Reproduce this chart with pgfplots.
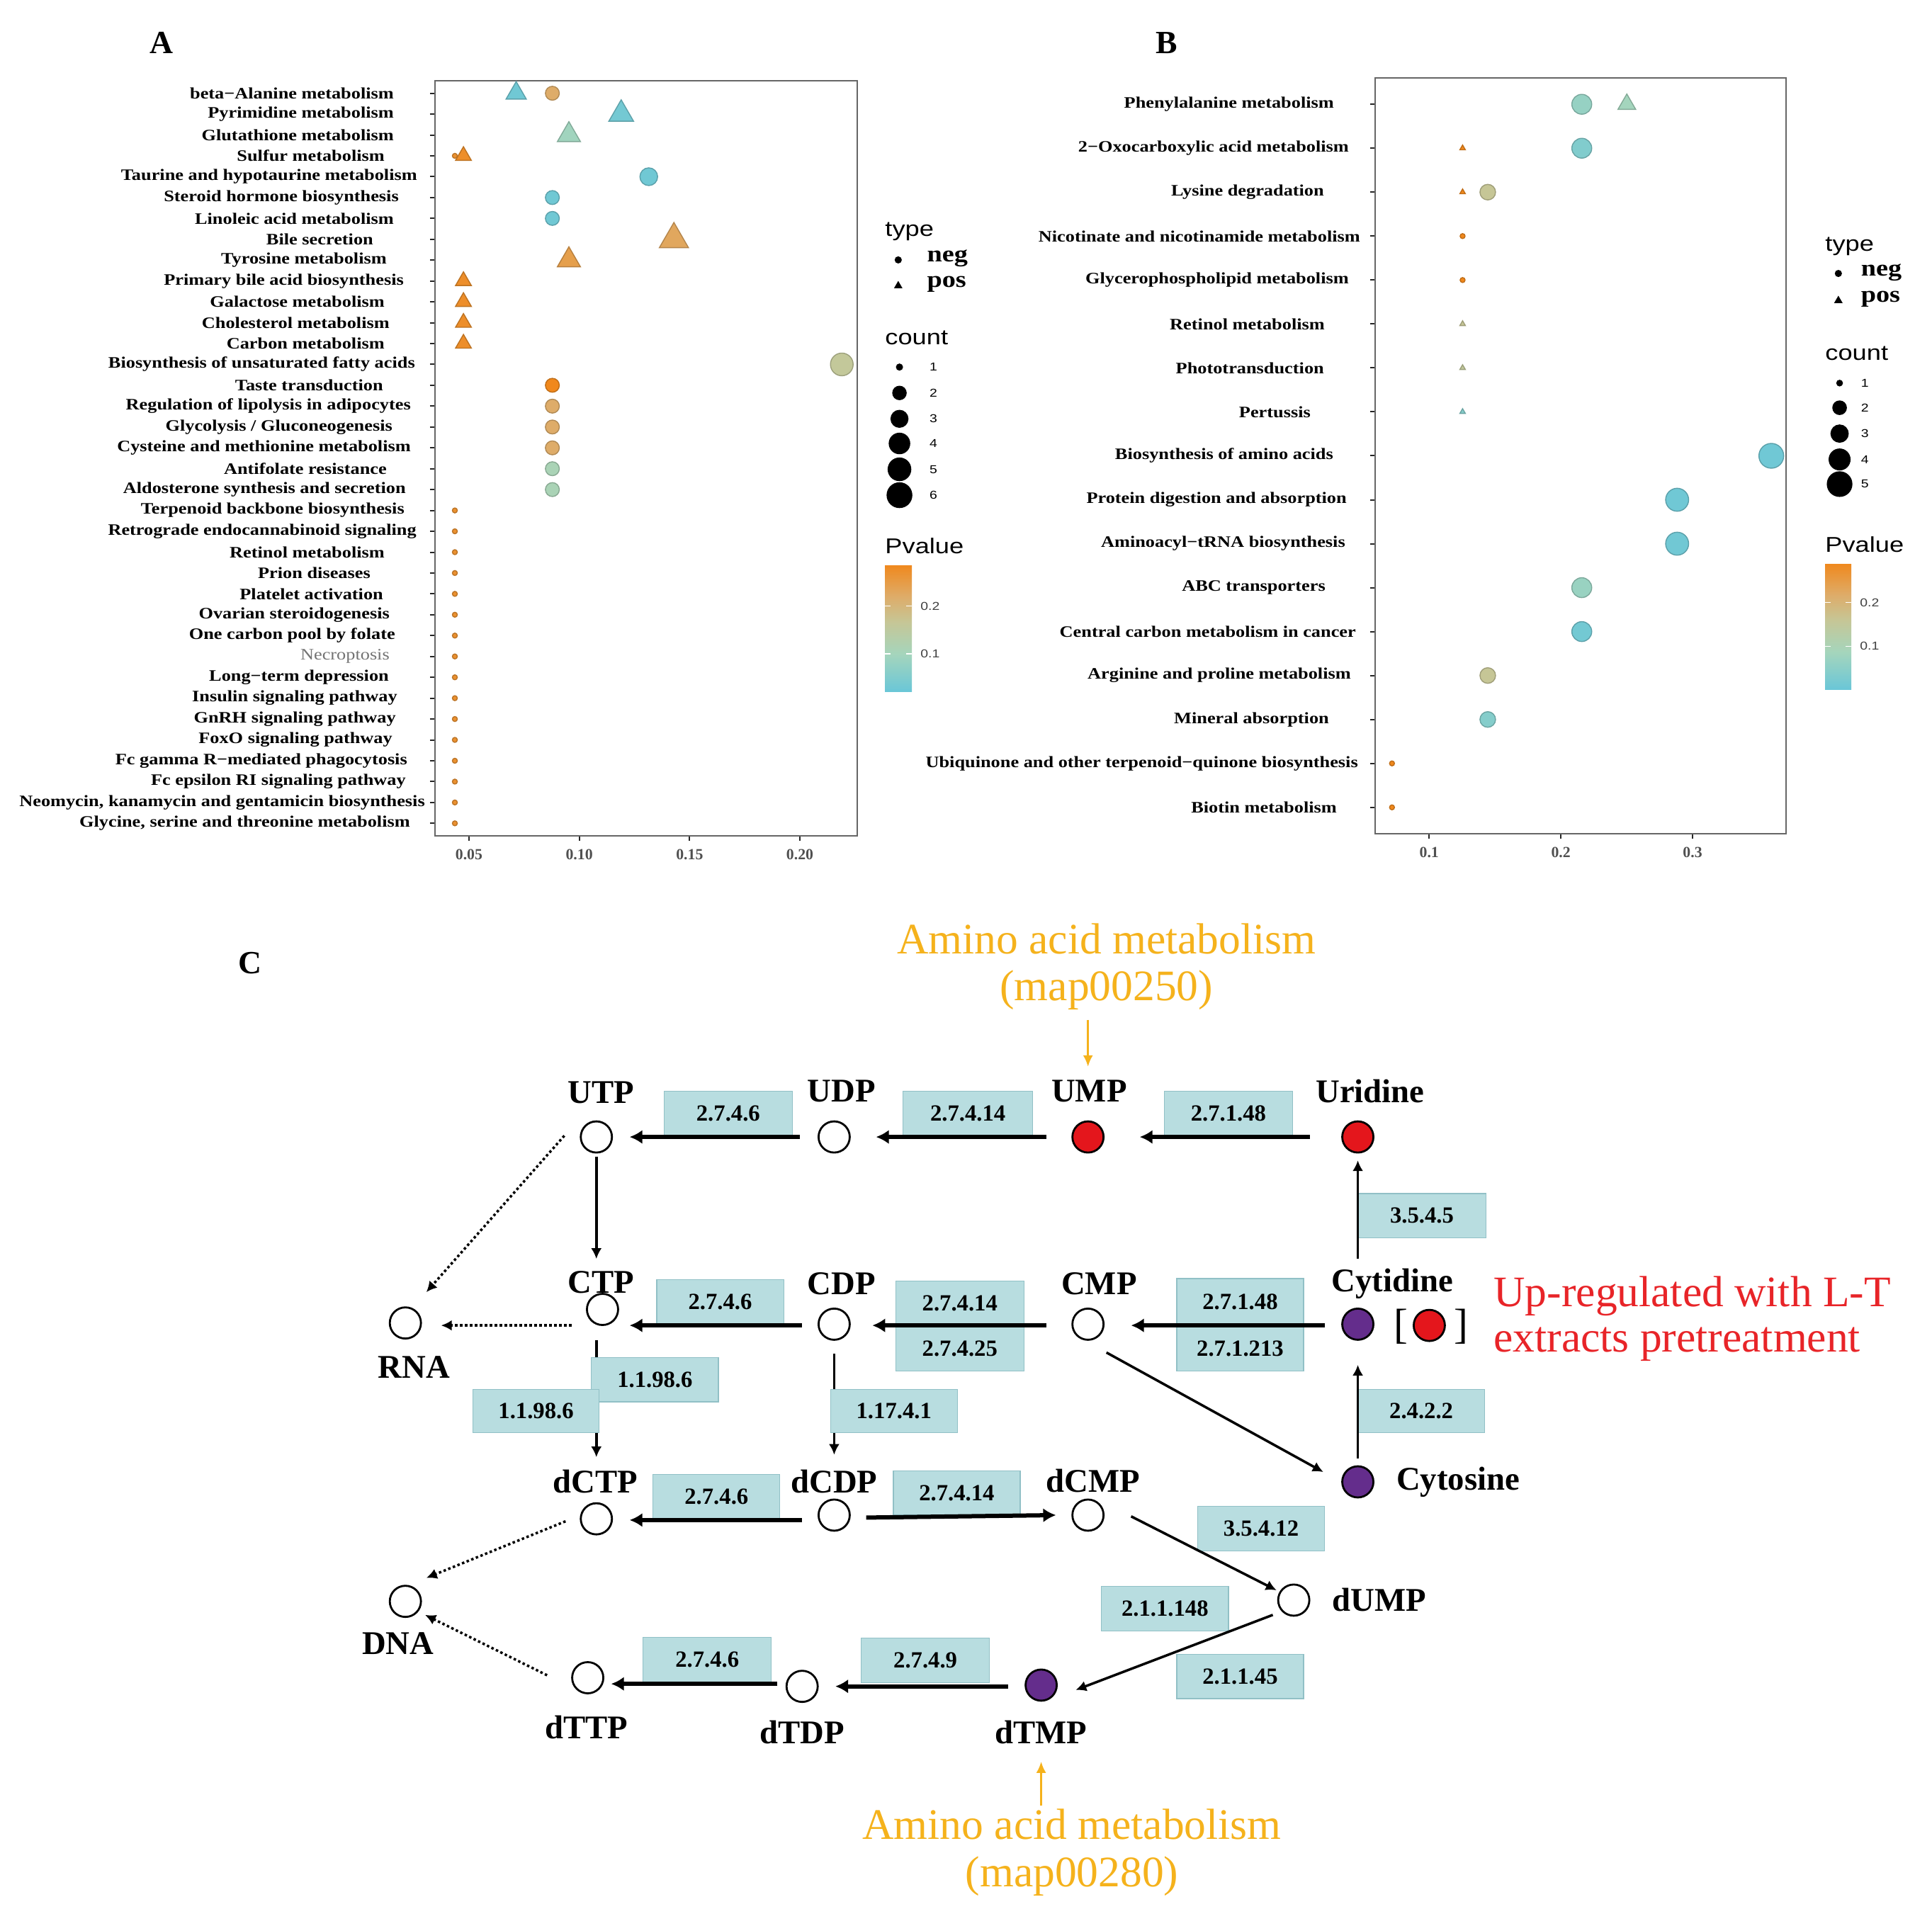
\documentclass[border=0pt]{standalone}
\usepackage{fontspec}
\setmainfont{Liberation Serif}
\newfontfamily\labfont[FakeStretch=1.17]{Liberation Serif}
\newfontfamily\legfont[FakeStretch=1.2]{Liberation Sans}
\usepackage{pgfplots}
\pgfplotsset{compat=1.18}
\usetikzlibrary{arrows.meta,calc}

\definecolor{boxfill}{RGB}{184,221,224}
\definecolor{boxdraw}{RGB}{145,192,198}
\definecolor{nodered}{RGB}{228,22,28}
\definecolor{nodepurple}{RGB}{100,45,140}
\definecolor{amino}{RGB}{245,178,28}
\definecolor{upred}{RGB}{232,36,40}
\definecolor{ticklab}{RGB}{80,80,80}

\newcommand{\gap}[1]{\rule{#1}{0pt}}

\pgfplotsset{
  colormap={pv}{rgb255(0pt)=(105,198,216) rgb255(30pt)=(165,213,188) rgb255(55pt)=(198,198,150) rgb255(75pt)=(222,172,105) rgb255(100pt)=(240,136,28)},
  bubble/.style={scatter, only marks, mark=#1, point meta=explicit,
    visualization depends on={\thisrow{r}\as\rad},
    scatter/@pre marker code/.append style={/tikz/mark size=\rad mm}},
  panel/.style={scale only axis, anchor=south west, clip=false,
    axis line style={draw=black!60, line width=0.15mm},
    tick align=outside, major tick length=0.7mm,
    tick style={draw=black!85, line width=0.2mm},
    xtick pos=left, ytick pos=left,
    xticklabel style={font=\rmfamily\bfseries\fontsize{6.2}{7}\selectfont, text=ticklab},
    yticklabel style={font=\labfont\bfseries\fontsize{6.4}{7}\selectfont, anchor=east, inner sep=0pt},
    colormap name=pv, colorbar},
  cbar/.style={anchor=south west, scale only axis,
    ytick={0.1,0.2}, yticklabels={0.1,0.2},
    yticklabel style={font=\legfont\fontsize{4.6}{5}\selectfont, text=black!75},
    axis line style={draw=none}, tick align=inside, major tick length=0.8mm,
    tick style={draw=white, line width=0.15mm}}
}

\newcommand{\ebox}[5]{%
  \draw[fill=boxfill, draw=boxdraw, line width=0.12mm] (axis cs:#1,#2) rectangle (axis cs:#3,#4);
  \path (axis cs:#1,#2) -- node[midway, font=\bfseries\fontsize{9.3}{10}\selectfont] {#5} (axis cs:#3,#4);}
\newcommand{\met}[3]{\node[font=\bfseries\fontsize{13.3}{14}\selectfont] at (axis cs:#2,#3) {#1};}
\newcommand{\cnt}[3]{\node[anchor=west, inner sep=0pt, font=\legfont\fontsize{4.6}{5}\selectfont] at (axis cs:#2,#3) {#1};}
\newcommand{\legtitle}[3]{\node[anchor=west, inner sep=0pt, font=\legfont\fontsize{8.6}{9}\selectfont] at (axis cs:#2,#3) {#1};}
\newcommand{\legtype}[3]{\node[anchor=west, inner sep=0pt, font=\labfont\bfseries\fontsize{9.3}{10}\selectfont] at (axis cs:#2,#3) {#1};}

\begin{document}
\begin{tikzpicture}
\path[use as bounding box, fill=white] (0,0) rectangle (272.7mm,271.8mm);

% ---------------- canvas: panel C, legends, panel letters ----------------
\begin{axis}[at={(0,0)}, anchor=south west, scale only axis,
  width=272.7mm, height=271.8mm, xmin=0, xmax=1568, ymin=0, ymax=1563,
  y dir=reverse, hide axis, clip=false]

% panel letters
\node[font=\bfseries\fontsize{13}{14}\selectfont] at (axis cs:131,35) {A};
\node[font=\bfseries\fontsize{13}{14}\selectfont] at (axis cs:947,35) {B};
\node[font=\bfseries\fontsize{13}{14}\selectfont] at (axis cs:203,782) {C};

% legend A
\legtitle{type}{718}{188}
\addplot[only marks, mark=*, mark size=0.43mm, black] coordinates {(729,211)};
\addplot[only marks, mark=triangle*, mark size=0.55mm, black] coordinates {(729,232)};
\legtype{neg}{752}{210}
\legtype{pos}{752}{231}
\legtitle{count}{718}{274}
\addplot[only marks, mark=*, mark size=0.43mm, black] coordinates {(730,298)};
\addplot[only marks, mark=*, mark size=0.95mm, black] coordinates {(730,319)};
\addplot[only marks, mark=*, mark size=1.2mm, black] coordinates {(730,340)};
\addplot[only marks, mark=*, mark size=1.45mm, black] coordinates {(730,360)};
\addplot[only marks, mark=*, mark size=1.6mm, black] coordinates {(730,381)};
\addplot[only marks, mark=*, mark size=1.75mm, black] coordinates {(730,402)};
\cnt{1}{754}{298}\cnt{2}{754}{319}\cnt{3}{754}{340}\cnt{4}{754}{360}\cnt{5}{754}{381}\cnt{6}{754}{402}
\legtitle{Pvalue}{718}{443}

% legend B
\legtitle{type}{1481}{200}
\addplot[only marks, mark=*, mark size=0.43mm, black] coordinates {(1492,222)};
\addplot[only marks, mark=triangle*, mark size=0.55mm, black] coordinates {(1492,244)};
\legtype{neg}{1510}{221}
\legtype{pos}{1510}{243}
\legtitle{count}{1481}{287}
\addplot[only marks, mark=*, mark size=0.4mm, black] coordinates {(1493,311)};
\addplot[only marks, mark=*, mark size=0.96mm, black] coordinates {(1493,331)};
\addplot[only marks, mark=*, mark size=1.22mm, black] coordinates {(1493,352)};
\addplot[only marks, mark=*, mark size=1.48mm, black] coordinates {(1493,373)};
\addplot[only marks, mark=*, mark size=1.74mm, black] coordinates {(1493,393)};
\cnt{1}{1510}{311}\cnt{2}{1510}{331}\cnt{3}{1510}{352}\cnt{4}{1510}{373}\cnt{5}{1510}{393}
\legtitle{Pvalue}{1481}{442}

% ---- panel C ----
\node[font=\fontsize{17.5}{18}\selectfont, text=amino] at (axis cs:898,762) {Amino acid metabolism};
\node[font=\fontsize{17.5}{18}\selectfont, text=amino] at (axis cs:898,804) {(map00250)};
\node[font=\fontsize{17.5}{18}\selectfont, text=amino] at (axis cs:870,1481) {Amino acid metabolism};
\node[font=\fontsize{17.5}{18}\selectfont, text=amino] at (axis cs:870,1523) {(map00280)};
\node[anchor=west, inner sep=0pt, font=\fontsize{17.5}{18}\selectfont, text=upred] at (axis cs:1212,1052) {Up-regulated with L-T};
\node[anchor=west, inner sep=0pt, font=\fontsize{17.5}{18}\selectfont, text=upred] at (axis cs:1212,1091) {extracts pretreatment};
\node[font=\fontsize{17}{18}\selectfont] at (axis cs:1137,1077) {[};
\node[font=\fontsize{17}{18}\selectfont] at (axis cs:1186,1077) {]};

% thin arrows passing under boxes
\addplot[line width=0.35mm, -{Latex[length=1.5mm,width=1.5mm]}] coordinates {(484,1088) (484,1183)};
\addplot[line width=0.35mm, -{Latex[length=1.5mm,width=1.5mm]}] coordinates {(677,1099) (677,1181)};

% enzyme boxes
\ebox{539}{886}{643}{922}{2.7.4.6}
\ebox{733}{886}{838}{922}{2.7.4.14}
\ebox{945}{886}{1049}{922}{2.7.1.48}
\ebox{1102}{969}{1206}{1005}{3.5.4.5}
\ebox{533}{1039}{636}{1075}{2.7.4.6}
\ebox{727}{1040}{831}{1076}{2.7.4.14}
\ebox{727}{1077}{831}{1113}{2.7.4.25}
\ebox{955}{1038}{1058}{1076}{2.7.1.48}
\ebox{955}{1077}{1058}{1113}{2.7.1.213}
\ebox{480}{1102}{583}{1138}{1.1.98.6}
\ebox{384}{1128}{486}{1163}{1.1.98.6}
\ebox{674}{1128}{777}{1163}{1.17.4.1}
\ebox{1102}{1128}{1205}{1163}{2.4.2.2}
\ebox{530}{1197}{633}{1233}{2.7.4.6}
\ebox{725}{1194}{828}{1230}{2.7.4.14}
\ebox{972}{1223}{1075}{1259}{3.5.4.12}
\ebox{894}{1288}{997}{1324}{2.1.1.148}
\ebox{955}{1343}{1058}{1379}{2.1.1.45}
\ebox{522}{1329}{626}{1366}{2.7.4.6}
\ebox{699}{1330}{803}{1366}{2.7.4.9}

% thick arrows
\addplot[line width=0.6mm, -{Latex[length=1.8mm,width=2mm]}] coordinates {(649,923) (511,923)};
\addplot[line width=0.6mm, -{Latex[length=1.8mm,width=2mm]}] coordinates {(849,923) (711,923)};
\addplot[line width=0.6mm, -{Latex[length=1.8mm,width=2mm]}] coordinates {(1063,923) (925,923)};
\addplot[line width=0.6mm, -{Latex[length=1.8mm,width=2mm]}] coordinates {(651,1076) (511,1076)};
\addplot[line width=0.6mm, -{Latex[length=1.8mm,width=2mm]}] coordinates {(849,1076) (708,1076)};
\addplot[line width=0.6mm, -{Latex[length=1.8mm,width=2mm]}] coordinates {(1075,1076) (918,1076)};
\addplot[line width=0.6mm, -{Latex[length=1.8mm,width=2mm]}] coordinates {(651,1234) (511,1234)};
\addplot[line width=0.6mm, -{Latex[length=1.8mm,width=2mm]}] coordinates {(703,1232) (857,1230)};
\addplot[line width=0.6mm, -{Latex[length=1.8mm,width=2mm]}] coordinates {(818,1369) (678,1369)};
\addplot[line width=0.6mm, -{Latex[length=1.8mm,width=2mm]}] coordinates {(631,1367) (496,1367)};

% thin arrows
\addplot[line width=0.35mm, -{Latex[length=1.5mm,width=1.5mm]}] coordinates {(484,939) (484,1022)};
\addplot[line width=0.35mm, -{Latex[length=1.5mm,width=1.5mm]}] coordinates {(1102,1022) (1102,942)};
\addplot[line width=0.35mm, -{Latex[length=1.5mm,width=1.5mm]}] coordinates {(898,1098) (1074,1195)};
\addplot[line width=0.35mm, -{Latex[length=1.5mm,width=1.5mm]}] coordinates {(1102,1184) (1102,1108)};
\addplot[line width=0.35mm, -{Latex[length=1.5mm,width=1.5mm]}] coordinates {(918,1231) (1036,1291)};
\addplot[line width=0.35mm, -{Latex[length=1.5mm,width=1.5mm]}] coordinates {(1033,1311) (873,1372)};

% dotted arrows
\addplot[line width=0.35mm, densely dotted, -{Latex[length=1.5mm,width=1.5mm]}] coordinates {(458,922) (346,1049)};
\addplot[line width=0.35mm, densely dotted, -{Latex[length=1.5mm,width=1.5mm]}] coordinates {(464,1076) (358,1076)};
\addplot[line width=0.35mm, densely dotted, -{Latex[length=1.5mm,width=1.5mm]}] coordinates {(459,1235) (346,1281)};
\addplot[line width=0.35mm, densely dotted, -{Latex[length=1.5mm,width=1.5mm]}] coordinates {(444,1360) (345,1311)};

% orange arrows
\addplot[amino, line width=0.3mm, -{Latex[length=1.6mm,width=1.4mm]}] coordinates {(883,828) (883,866)};
\addplot[amino, line width=0.3mm, -{Latex[length=1.6mm,width=1.4mm]}] coordinates {(845,1466) (845,1430)};

% metabolite circles
\addplot[only marks, mark=*, mark size=2.2mm, mark options={fill=white, draw=black, line width=0.28mm}]
  coordinates {(484,923) (677,923) (489,1063) (677,1075) (883,1075) (329,1074) (484,1233) (677,1230) (883,1230) (1050,1299) (329,1300) (477,1362) (651,1369)};
\addplot[only marks, mark=*, mark size=2.2mm, mark options={fill=nodered, draw=black, line width=0.28mm}]
  coordinates {(883,923) (1102,923) (1160,1076)};
\addplot[only marks, mark=*, mark size=2.2mm, mark options={fill=nodepurple, draw=black, line width=0.28mm}]
  coordinates {(1102,1075) (1102,1203) (845,1368)};

% metabolite labels
\met{UTP}{488}{887}\met{UDP}{683}{886}\met{UMP}{884}{886}\met{Uridine}{1112}{886}
\met{CTP}{488}{1041}\met{CDP}{683}{1042}\met{CMP}{892}{1042}\met{Cytidine}{1130}{1042}
\met{RNA}{336}{1110}
\met{dCTP}{483}{1203}\met{dCDP}{677}{1203}\met{dCMP}{887}{1202}
\met{DNA}{323}{1334}
\met{dTTP}{476}{1402}\met{dTDP}{651}{1406}\met{dTMP}{845}{1406}
\node[anchor=west, inner sep=0pt, font=\bfseries\fontsize{13.3}{14}\selectfont] at (axis cs:1133,1203) {Cytosine};
\node[anchor=west, inner sep=0pt, font=\bfseries\fontsize{13.3}{14}\selectfont] at (axis cs:1081,1299) {dUMP};
\end{axis}

% ---------------- panel A ----------------
\begin{axis}[panel, at={(61.4mm,153.8mm)}, width=59.6mm, height=106.6mm,
  xmin=0.0346, xmax=0.226, ymin=0.4, ymax=36.6,
  xtick={0.05,0.10,0.15,0.20}, xticklabels={0.05,0.10,0.15,0.20},
  ytick={1,...,36},
  yticklabel style={xshift=-0.55mm},
  yticklabels={
{Glycine, serine and threonine metabolism\gap{2.2mm}},
{Neomycin, kanamycin and gentamicin biosynthesis\gap{0.1mm}},
{Fc epsilon RI signaling pathway\gap{2.8mm}},
{Fc gamma R−mediated phagocytosis\gap{2.6mm}},
{FoxO signaling pathway\gap{4.7mm}},
{GnRH signaling pathway\gap{4.2mm}},
{Insulin signaling pathway\gap{4.0mm}},
{Long−term depression\gap{5.2mm}},
{{\mdseries\color{black!55}Necroptosis}\gap{5.1mm}},
{One carbon pool by folate\gap{4.3mm}},
{Ovarian steroidogenesis\gap{5.1mm}},
{Platelet activation\gap{6.0mm}},
{Prion diseases\gap{7.8mm}},
{Retinol metabolism\gap{5.8mm}},
{Retrograde endocannabinoid signaling\gap{1.3mm}},
{Terpenoid backbone biosynthesis\gap{3.0mm}},
{Aldosterone synthesis and secretion\gap{2.8mm}},
{Antifolate resistance\gap{5.5mm}},
{Cysteine and methionine metabolism\gap{2.1mm}},
{Glycolysis / Gluconeogenesis\gap{4.7mm}},
{Regulation of lipolysis in adipocytes\gap{2.1mm}},
{Taste transduction\gap{6.0mm}},
{Biosynthesis of unsaturated fatty acids\gap{1.5mm}},
{Carbon metabolism\gap{5.8mm}},
{Cholesterol metabolism\gap{5.1mm}},
{Galactose metabolism\gap{5.8mm}},
{Primary bile acid biosynthesis\gap{3.1mm}},
{Tyrosine metabolism\gap{5.5mm}},
{Bile secretion\gap{7.4mm}},
{Linoleic acid metabolism\gap{4.5mm}},
{Steroid hormone biosynthesis\gap{3.8mm}},
{Taurine and hypotaurine metabolism\gap{1.2mm}},
{Sulfur metabolism\gap{5.8mm}},
{Glutathione metabolism\gap{4.5mm}},
{Pyrimidine metabolism\gap{4.5mm}},
{beta−Alanine metabolism\gap{4.5mm}}},
  point meta min=0.02, point meta max=0.287,
  colorbar style={cbar, at={($(parent axis.south east)+(0.9mm,20.3mm)$)}, width=3.8mm, height=18mm}]
% neg (circles): x  y  r(mm)  p
\addplot[bubble=*] table[x=x, y=y, meta=p] {
x y r p
0.0878 36 0.98 0.22
0.0436 33 0.35 0.27
0.1315 32 1.25 0.03
0.0878 31 0.98 0.03
0.0878 30 0.98 0.03
0.2190 23 1.60 0.16
0.0878 22 0.98 0.287
0.0878 21 0.98 0.22
0.0878 20 0.98 0.22
0.0878 19 0.98 0.22
0.0878 18 0.98 0.11
0.0878 17 0.98 0.11
0.0436 16 0.35 0.27
0.0436 15 0.35 0.27
0.0436 14 0.35 0.27
0.0436 13 0.35 0.27
0.0436 12 0.35 0.27
0.0436 11 0.35 0.27
0.0436 10 0.35 0.27
0.0436 9 0.35 0.27
0.0436 8 0.35 0.27
0.0436 7 0.35 0.27
0.0436 6 0.35 0.27
0.0436 5 0.35 0.27
0.0436 4 0.35 0.27
0.0436 3 0.35 0.27
0.0436 2 0.35 0.27
0.0436 1 0.35 0.27
};
% pos (triangles)
\addplot[bubble=triangle*] table[x=x, y=y, meta=p] {
x y r p
0.0714 36 1.65 0.03
0.1190 35 2.02 0.035
0.0953 34 1.88 0.095
0.0475 33 1.29 0.275
0.1429 29 2.37 0.23
0.0953 28 1.88 0.245
0.0475 27 1.29 0.275
0.0475 26 1.29 0.275
0.0475 25 1.29 0.275
0.0475 24 1.29 0.275
};
\end{axis}

% ---------------- panel B ----------------
\begin{axis}[panel, at={(194.1mm,154.1mm)}, width=58.0mm, height=106.7mm,
  xmin=0.059, xmax=0.371, ymin=0.4, ymax=17.6,
  xtick={0.1,0.2,0.3}, xticklabels={0.1,0.2,0.3},
  ytick={1,...,17},
  yticklabel style={xshift=-1.25mm},
  yticklabels={
{Biotin metabolism\gap{3.4mm}},
{Ubiquinone and other terpenoid−quinone biosynthesis\gap{0.4mm}},
{Mineral absorption\gap{4.5mm}},
{Arginine and proline metabolism\gap{1.4mm}},
{Central carbon metabolism in cancer\gap{0.7mm}},
{ABC transporters\gap{5.0mm}},
{Aminoacyl−tRNA biosynthesis\gap{2.2mm}},
{Protein digestion and absorption\gap{2.0mm}},
{Biosynthesis of amino acids\gap{3.9mm}},
{Pertussis\gap{7.1mm}},
{Phototransduction\gap{5.2mm}},
{Retinol metabolism\gap{5.1mm}},
{Glycerophospholipid metabolism\gap{1.7mm}},
{Nicotinate and nicotinamide metabolism\gap{0.1mm}},
{Lysine degradation\gap{5.2mm}},
{2−Oxocarboxylic acid metabolism\gap{1.7mm}},
{Phenylalanine metabolism\gap{3.8mm}}},
  point meta min=0, point meta max=0.29,
  colorbar style={cbar, at={($(parent axis.south east)+(2.5mm,20.3mm)$)}, width=3.7mm, height=17.9mm}]
\addplot[bubble=*] table[x=x, y=y, meta=p] {
x y r p
0.2159 17 1.40 0.065
0.2159 16 1.40 0.035
0.1445 15 1.10 0.16
0.1254 14 0.35 0.29
0.1254 13 0.35 0.29
0.3598 9 1.75 0.01
0.2883 8 1.62 0.01
0.2883 7 1.62 0.012
0.2159 6 1.40 0.07
0.2159 5 1.40 0.015
0.1445 4 1.10 0.16
0.1445 3 1.10 0.04
0.0718 2 0.35 0.29
0.0718 1 0.35 0.29
};
\addplot[bubble=triangle*] table[x=x, y=y, meta=p] {
x y r p
0.2501 17 1.45 0.085
0.1254 16 0.45 0.29
0.1254 15 0.45 0.29
0.1254 12 0.45 0.16
0.1254 11 0.45 0.15
0.1254 10 0.45 0.04
};
\end{axis}
\end{tikzpicture}
\end{document}
